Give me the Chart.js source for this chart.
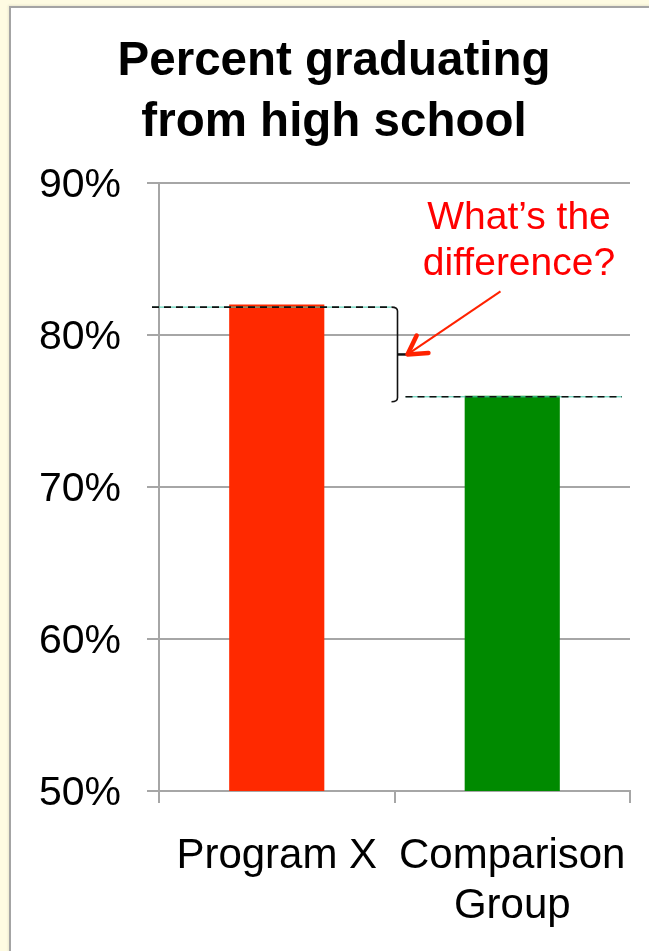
<!DOCTYPE html>
<html>
<head>
<meta charset="utf-8">
<script src="https://cdn.jsdelivr.net/npm/chart.js@4.4.1/dist/chart.umd.min.js"></script>
<style>
  html, body { margin: 0; padding: 0; width: 649px; height: 951px; overflow: hidden; background: #FEFBE2; }
  #panel { position: absolute; left: 9px; top: 6px; width: 700px; height: 1000px; background: #fff;
           border-left: 2px solid #a4a4a4; border-top: 2px solid #a4a4a4; box-shadow: -1px -1px 2px rgba(0,0,0,0.08); }
  #c { position: absolute; left: 0; top: 0; }
</style>
</head>
<body>
<div id="panel"></div>
<canvas id="c" width="649" height="951"></canvas>
<script>
// ---- data ----
const categories = ['Program X', ['Comparison', 'Group']];
const values = [82, 76];
const barColors = ['#FF2900', '#008A00'];
const yTickValues = [50, 60, 70, 80, 90];
const titleLines = ['Percent graduating', 'from high school'];
const noteLines = ['What\u2019s the', 'difference?'];

const FONT = '"Liberation Sans", Arial, Helvetica, sans-serif';
const GRID = '#a6a6a6';

const annotate = {
  id: 'annotate',
  afterDatasetsDraw(chart) {
    const ctx = chart.ctx, xs = chart.scales.x, ys = chart.scales.y, ca = chart.chartArea;
    const yA = ys.getPixelForValue(values[0]) + 2.5;
    const yB = ys.getPixelForValue(values[1]) + 1;
    const mid = (xs.getPixelForValue(0) + xs.getPixelForValue(1)) / 2;
    ctx.save();
    function dashed(x1, x2, y) {
      ctx.setLineDash([]);
      ctx.strokeStyle = '#3cc8a8'; ctx.lineWidth = 1;
      ctx.beginPath(); ctx.moveTo(x1, y); ctx.lineTo(x2, y); ctx.stroke();
      ctx.setLineDash([7, 5]);
      ctx.strokeStyle = '#111'; ctx.lineWidth = 1.6;
      ctx.beginPath(); ctx.moveTo(x1, y); ctx.lineTo(x2, y); ctx.stroke();
    }
    dashed(ca.left - 7, mid - 3, yA);
    dashed(mid + 11, ca.right - 8, yB);
    ctx.setLineDash([]);
    // bracket
    const bx = mid + 3, top = yA, bot = yB + 5, my = (top + bot) / 2;
    ctx.strokeStyle = '#111'; ctx.lineWidth = 1.6;
    ctx.beginPath();
    ctx.moveTo(bx - 6, top);
    ctx.quadraticCurveTo(bx, top, bx, top + 4);
    ctx.lineTo(bx, bot - 4);
    ctx.quadraticCurveTo(bx, bot, bx - 6, bot);
    ctx.stroke();
    ctx.lineWidth = 2.5;
    ctx.beginPath(); ctx.moveTo(bx, my); ctx.lineTo(bx + 9, my); ctx.stroke();
    // arrow
    const tipX = bx + 10, tipY = my;
    const tailX = tipX + 93, tailY = tipY - 63;
    ctx.strokeStyle = '#FF2200'; ctx.lineWidth = 2;
    ctx.beginPath(); ctx.moveTo(tailX, tailY); ctx.lineTo(tipX, tipY); ctx.stroke();
    const ang = Math.atan2(tailY - tipY, tailX - tipX);
    const L = 21, spread = Math.PI / 6;
    ctx.lineWidth = 4.5; ctx.lineCap = 'round'; ctx.lineJoin = 'round';
    ctx.beginPath();
    ctx.moveTo(tipX + L * Math.cos(ang + spread), tipY + L * Math.sin(ang + spread));
    ctx.lineTo(tipX, tipY);
    ctx.lineTo(tipX + L * Math.cos(ang - spread), tipY + L * Math.sin(ang - spread));
    ctx.stroke();
    // note text
    ctx.fillStyle = '#FF0000';
    ctx.font = '39px ' + FONT;
    ctx.textAlign = 'center'; ctx.textBaseline = 'middle';
    const tx = ca.right - 111;
    noteLines.forEach((t, i) => ctx.fillText(t, tx, ca.top + 35 + i * 46));
    ctx.restore();
  }
};

new Chart(document.getElementById('c'), {
  type: 'bar',
  data: {
    labels: categories,
    datasets: [{
      data: values,
      backgroundColor: barColors,
      borderWidth: 0,
      barPercentage: 0.404,
      categoryPercentage: 1
    }]
  },
  options: {
    responsive: false,
    animation: false,
    devicePixelRatio: 1,
    layout: { padding: { left: 38, right: 19, top: 0, bottom: 0 } },
    plugins: {
      legend: { display: false },
      tooltip: { enabled: false },
      title: {
        display: true,
        text: titleLines,
        color: '#000',
        font: { family: FONT, size: 47.5, weight: 'bold', lineHeight: 1.28 },
        padding: { top: 32, bottom: 29.4 }
      }
    },
    scales: {
      x: {
        offset: true,
        grid: { display: true, drawOnChartArea: false, drawTicks: true, tickLength: 12, color: GRID, lineWidth: 2, offset: true },
        border: { display: true, color: GRID, width: 2 },
        ticks: { color: '#000', font: { family: FONT, size: 42, lineHeight: 1.2 }, padding: 28, maxRotation: 0, autoSkip: false },
        afterFit(s) { s.height = 160; s.paddingLeft = 0; s.paddingRight = 0; }
      },
      y: {
        min: yTickValues[0],
        max: yTickValues[yTickValues.length - 1],
        afterBuildTicks(s) { s.ticks = yTickValues.map(v => ({ value: v })); },
        grid: { color: GRID, lineWidth: 2, drawTicks: true, tickLength: 12 },
        border: { display: true, color: GRID, width: 2 },
        ticks: { color: '#000', font: { family: FONT, size: 41 }, padding: 26, labelOffset: 3, callback: v => v + '%' },
        afterFit(s) { s.width = 121; s.paddingTop = 0; s.paddingBottom = 0; }
      }
    }
  },
  plugins: [annotate]
});
</script>
</body>
</html>
